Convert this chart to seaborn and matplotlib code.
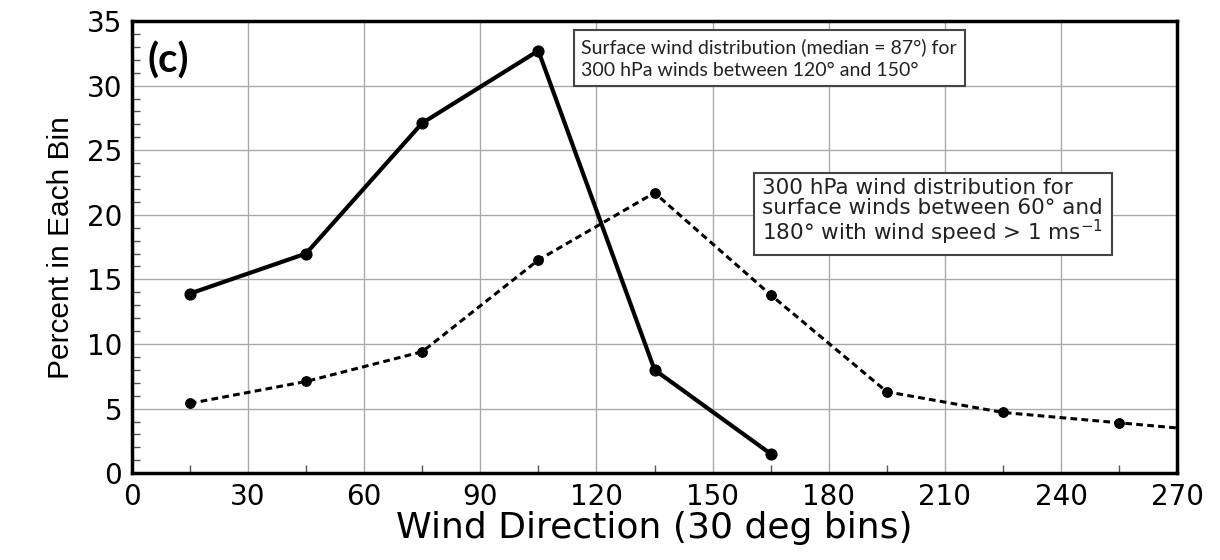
import matplotlib
matplotlib.use("Agg")
import matplotlib.pyplot as plt
from matplotlib.ticker import MultipleLocator
import seaborn as sns
import pandas as pd

# bin centres (deg) and percent in each bin
surface_dir = [15, 45, 75, 105, 135, 165]
surface_pct = [13.9, 17.0, 27.1, 32.7, 8.0, 1.5]

upper_dir = [15, 45, 75, 105, 135, 165, 195, 225, 255, 285]
upper_pct = [5.4, 7.1, 9.4, 16.5, 21.7, 13.8, 6.3, 4.7, 3.9, 3.1]

x_ticks = list(range(0, 271, 30))
y_ticks = list(range(0, 36, 5))

sns.set_theme(style="white")
plt.rcParams['font.family'] = ['DejaVu Sans']
plt.rcParams['text.color'] = 'black'
plt.rcParams['axes.labelcolor'] = 'black'
plt.rcParams['xtick.labelcolor'] = 'black'
plt.rcParams['ytick.labelcolor'] = 'black'

df_sfc = pd.DataFrame({'dir': surface_dir, 'pct': surface_pct})
df_300 = pd.DataFrame({'dir': upper_dir, 'pct': upper_pct})

fig = plt.figure(figsize=(12.2, 5.6), dpi=100)
ax = fig.add_axes([0.108, 0.155, 0.857, 0.8075])

sns.lineplot(data=df_sfc, x='dir', y='pct', ax=ax, color='black', lw=3,
             marker='o', markersize=8, markeredgecolor='black')
sns.lineplot(data=df_300, x='dir', y='pct', ax=ax, color='black', lw=2.2,
             linestyle=(0, (2.2, 1.4)), marker='o', markersize=7,
             markeredgecolor='black')

ax.set_xlim(0, 270)
ax.set_ylim(0, 35)
ax.set_xticks(x_ticks)
ax.set_yticks(y_ticks)
ax.xaxis.set_minor_locator(MultipleLocator(15))
ax.yaxis.set_minor_locator(MultipleLocator(1))
ax.tick_params(which='both', direction='in', color='#555555',
               bottom=True, left=True)
ax.tick_params(which='major', length=0, labelsize=20, pad=7)
ax.tick_params(which='minor', length=6, width=1)
ax.grid(True, which='major', color='#aaaaaa', lw=1)
for s in ax.spines.values():
    s.set_color('black')
    s.set_linewidth(2.5)

ax.set_xlabel('Wind Direction (30 deg bins)', fontsize=26, labelpad=0)
ax.set_ylabel('Percent in Each Bin', fontsize=21.5, labelpad=8,
              family=['Liberation Sans Narrow', 'Liberation Sans'])

ax.text(0.015, 0.955, '(c)', transform=ax.transAxes, fontsize=29,
        fontweight='bold', family=['Lato', 'DejaVu Sans'], va='top')

box = dict(boxstyle='square,pad=0.4', fc='white', ec='#444444', lw=1.5)
ax.text(0.43, 0.962,
        'Surface wind distribution (median = 87°) for\n300 hPa winds between 120° and 150°',
        transform=ax.transAxes, fontsize=14, family=['Lato', 'DejaVu Sans'],
        va='top', ha='left', bbox=box, color='#222222', linespacing=1.4)
ax.text(0.603, 0.652,
        '300 hPa wind distribution for\nsurface winds between 60° and\n180° with wind speed > 1 ms$^{-1}$',
        transform=ax.transAxes, fontsize=15.5, family=['DejaVu Sans'],
        va='top', ha='left', bbox=box, color='#222222', linespacing=0.98)

fig.savefig('out.png', dpi=100)
